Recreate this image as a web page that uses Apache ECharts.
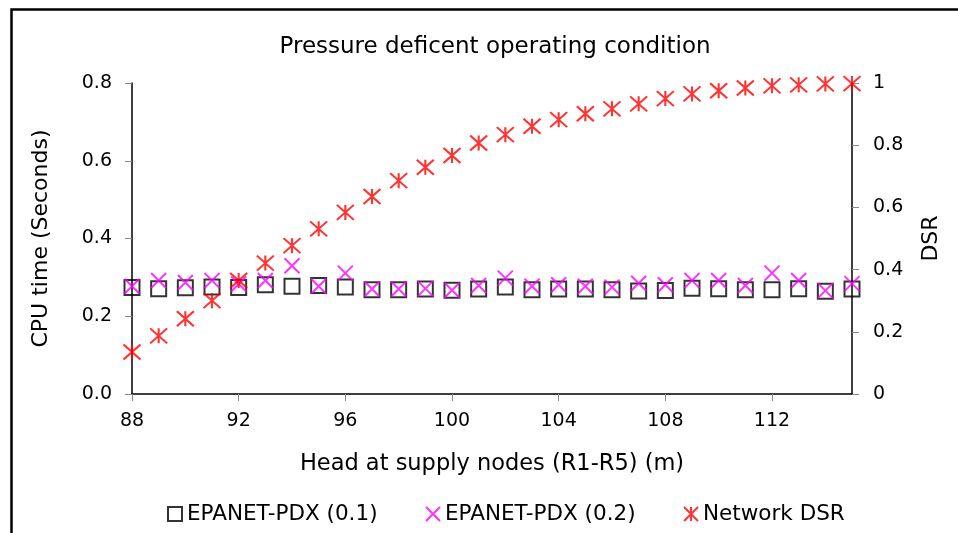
<!DOCTYPE html>
<html><head><meta charset="utf-8">
<script src="https://cdn.jsdelivr.net/npm/echarts@6/dist/echarts.min.js"></script>
<style>html,body{margin:0;padding:0;background:#fff}#c{width:958px;height:533px}</style>
</head><body><div id="c"></div>
<script>
var heads = [88,89,90,91,92,93,94,95,96,97,98,99,100,101,102,103,104,105,106,107,108,109,110,111,112,113,114,115];
var pdx01 = [0.274,0.271,0.273,0.275,0.274,0.281,0.277,0.279,0.275,0.268,0.268,0.270,0.267,0.270,0.275,0.268,0.270,0.270,0.268,0.265,0.266,0.272,0.271,0.268,0.268,0.271,0.264,0.270];
var pdx02 = [0.277,0.292,0.287,0.292,0.283,0.292,0.330,0.277,0.311,0.270,0.270,0.271,0.267,0.279,0.298,0.277,0.281,0.277,0.275,0.285,0.281,0.292,0.292,0.279,0.311,0.292,0.266,0.284];
var dsr = [0.135,0.187,0.242,0.300,0.365,0.421,0.477,0.531,0.584,0.635,0.686,0.729,0.767,0.807,0.834,0.861,0.882,0.901,0.917,0.933,0.950,0.965,0.975,0.984,0.991,0.994,0.997,0.998];
var leftTicks = {min:0, max:0.8, interval:0.2};
var rightTicks = {min:0, max:1, interval:0.2};

var FONT = 'DejaVu Sans, sans-serif';
var XPATH = 'path://M0,0L10,10M10,0L0,10';
var STAR = 'path://M0,0L10,10M10,0L0,10M5,0L5,10';
var chart = echarts.init(document.getElementById('c'));
chart.setOption({
  animation:false,
  backgroundColor:'#fff',
  textStyle:{fontFamily:FONT},
  title:{text:'Pressure deficent operating condition', left:490, top:31, textAlign:'center',
    textStyle:{fontFamily:FONT, fontSize:23, fontWeight:'normal', color:'#000'}},
  grid:{left:132, right:106, top:83, bottom:139, containLabel:false},
  legend:{top:498, left:162, itemGap:46, itemWidth:14, itemHeight:14,
    textStyle:{fontFamily:FONT, fontSize:21.5, color:'#000'},
    data:['EPANET-PDX (0.1)','EPANET-PDX (0.2)','Network DSR']},
  xAxis:{type:'category', data:heads, boundaryGap:false,
    name:'Head at supply nodes (R1-R5) (m)', nameLocation:'middle', nameGap:59,
    nameTextStyle:{fontFamily:FONT, fontSize:22.5, color:'#000'},
    axisLine:{lineStyle:{color:'#000', width:1.5}},
    axisTick:{interval:3, length:7, lineStyle:{color:'#888'}},
    axisLabel:{interval:3, fontSize:19, color:'#000', margin:18, fontFamily:FONT},
    splitLine:{show:false}},
  yAxis:[
    {type:'value', min:leftTicks.min, max:leftTicks.max, interval:leftTicks.interval,
     name:'CPU time (Seconds)', nameLocation:'middle', nameGap:80, nameRotate:90,
     nameTextStyle:{fontFamily:FONT, fontSize:22, color:'#000'},
     axisLine:{show:true, lineStyle:{color:'#000', width:1.5}},
     axisTick:{show:true, length:7, lineStyle:{color:'#888'}},
     axisLabel:{fontSize:19, color:'#000', margin:20, fontFamily:FONT, formatter:function(v){return v.toFixed(1);}},
     splitLine:{show:false}},
    {type:'value', min:rightTicks.min, max:rightTicks.max, interval:rightTicks.interval, position:'right',
     name:'DSR', nameLocation:'middle', nameGap:68, nameRotate:90,
     nameTextStyle:{fontFamily:FONT, fontSize:22, color:'#000'},
     axisLine:{show:true, lineStyle:{color:'#000', width:1.5}},
     axisTick:{show:true, length:7, lineStyle:{color:'#888'}},
     axisLabel:{fontSize:19, color:'#000', margin:21, fontFamily:FONT},
     splitLine:{show:false}}
  ],
  series:[
    {name:'EPANET-PDX (0.1)', type:'scatter', yAxisIndex:0, data:pdx01, symbol:'rect', symbolSize:15,
     itemStyle:{color:'rgba(255,255,255,0)', borderColor:'#000', borderWidth:2}},
    {name:'EPANET-PDX (0.2)', type:'scatter', yAxisIndex:0, data:pdx02, symbol:XPATH, symbolSize:15,
     itemStyle:{color:'none', borderColor:'#ff00ff', borderWidth:2}},
    {name:'Network DSR', type:'scatter', yAxisIndex:1, data:dsr, symbol:STAR, symbolSize:[17,15],
     itemStyle:{color:'none', borderColor:'#ff0000', borderWidth:2}}
  ],
  graphic:[{type:'rect', left:9, top:7, shape:{width:1000, height:600}, silent:true, z:-1,
    style:{fill:'none', stroke:'#000', lineWidth:2.5}}]
});
</script></body></html>
